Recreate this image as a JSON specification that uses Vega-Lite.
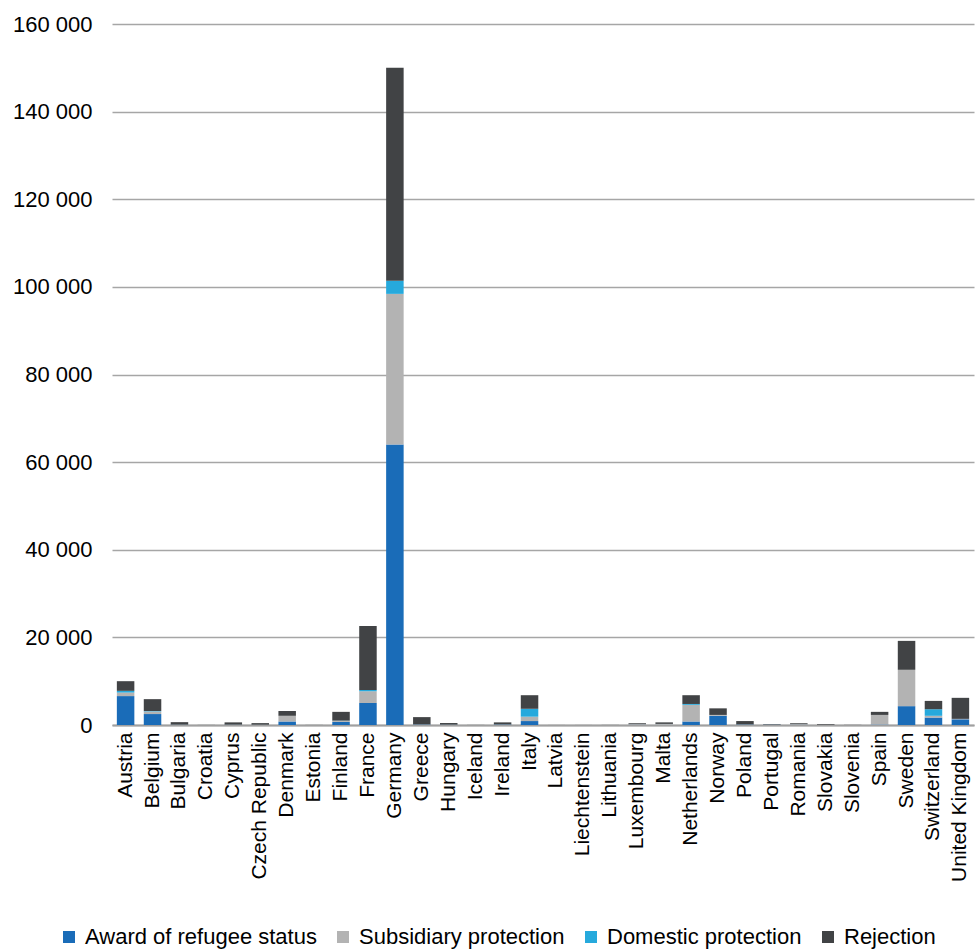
{
  "$schema": "https://vega.github.io/schema/vega-lite/v6.json",
  "width": 862,
  "height": 701,
  "autosize": {"type": "none"},
  "padding": {"left": 112, "top": 24, "right": 1, "bottom": 225},
  "background": "white",
  "config": {
    "font": "Liberation Sans",
    "view": {"stroke": null},
    "locale": {"number": {"decimal": ".", "thousands": " ", "grouping": [3], "currency": ["", ""]}}
  },
  "data": {
    "values": [
      {"country": "Austria", "Award of refugee status": 6600, "Subsidiary protection": 800, "Domestic protection": 400, "Rejection": 2200},
      {"country": "Belgium", "Award of refugee status": 2500, "Subsidiary protection": 600, "Domestic protection": 100, "Rejection": 2700},
      {"country": "Bulgaria", "Award of refugee status": 50, "Subsidiary protection": 50, "Domestic protection": 0, "Rejection": 550},
      {"country": "Croatia", "Award of refugee status": 0, "Subsidiary protection": 0, "Domestic protection": 0, "Rejection": 20},
      {"country": "Cyprus", "Award of refugee status": 50, "Subsidiary protection": 50, "Domestic protection": 0, "Rejection": 500},
      {"country": "Czech Republic", "Award of refugee status": 30, "Subsidiary protection": 50, "Domestic protection": 0, "Rejection": 350},
      {"country": "Denmark", "Award of refugee status": 800, "Subsidiary protection": 1300, "Domestic protection": 0, "Rejection": 1100},
      {"country": "Estonia", "Award of refugee status": 0, "Subsidiary protection": 0, "Domestic protection": 0, "Rejection": 20},
      {"country": "Finland", "Award of refugee status": 700, "Subsidiary protection": 250, "Domestic protection": 50, "Rejection": 2000},
      {"country": "France", "Award of refugee status": 5000, "Subsidiary protection": 2700, "Domestic protection": 300, "Rejection": 14600},
      {"country": "Germany", "Award of refugee status": 64000, "Subsidiary protection": 34400, "Domestic protection": 3000, "Rejection": 48600},
      {"country": "Greece", "Award of refugee status": 100, "Subsidiary protection": 50, "Domestic protection": 0, "Rejection": 1650},
      {"country": "Hungary", "Award of refugee status": 50, "Subsidiary protection": 50, "Domestic protection": 0, "Rejection": 350},
      {"country": "Iceland", "Award of refugee status": 0, "Subsidiary protection": 0, "Domestic protection": 0, "Rejection": 20},
      {"country": "Ireland", "Award of refugee status": 100, "Subsidiary protection": 50, "Domestic protection": 0, "Rejection": 450},
      {"country": "Italy", "Award of refugee status": 900, "Subsidiary protection": 1000, "Domestic protection": 1800, "Rejection": 3100},
      {"country": "Latvia", "Award of refugee status": 0, "Subsidiary protection": 0, "Domestic protection": 0, "Rejection": 10},
      {"country": "Liechtenstein", "Award of refugee status": 0, "Subsidiary protection": 0, "Domestic protection": 0, "Rejection": 10},
      {"country": "Lithuania", "Award of refugee status": 0, "Subsidiary protection": 0, "Domestic protection": 0, "Rejection": 20},
      {"country": "Luxembourg", "Award of refugee status": 50, "Subsidiary protection": 150, "Domestic protection": 0, "Rejection": 200},
      {"country": "Malta", "Award of refugee status": 50, "Subsidiary protection": 200, "Domestic protection": 0, "Rejection": 350},
      {"country": "Netherlands", "Award of refugee status": 800, "Subsidiary protection": 3800, "Domestic protection": 200, "Rejection": 2000},
      {"country": "Norway", "Award of refugee status": 2100, "Subsidiary protection": 200, "Domestic protection": 0, "Rejection": 1500},
      {"country": "Poland", "Award of refugee status": 100, "Subsidiary protection": 50, "Domestic protection": 0, "Rejection": 750},
      {"country": "Portugal", "Award of refugee status": 50, "Subsidiary protection": 50, "Domestic protection": 0, "Rejection": 100},
      {"country": "Romania", "Award of refugee status": 50, "Subsidiary protection": 150, "Domestic protection": 0, "Rejection": 200},
      {"country": "Slovakia", "Award of refugee status": 0, "Subsidiary protection": 50, "Domestic protection": 0, "Rejection": 150},
      {"country": "Slovenia", "Award of refugee status": 0, "Subsidiary protection": 0, "Domestic protection": 0, "Rejection": 30},
      {"country": "Spain", "Award of refugee status": 100, "Subsidiary protection": 2200, "Domestic protection": 0, "Rejection": 700},
      {"country": "Sweden", "Award of refugee status": 4300, "Subsidiary protection": 8300, "Domestic protection": 0, "Rejection": 6600},
      {"country": "Switzerland", "Award of refugee status": 1700, "Subsidiary protection": 400, "Domestic protection": 1500, "Rejection": 1900},
      {"country": "United Kingdom", "Award of refugee status": 1300, "Subsidiary protection": 100, "Domestic protection": 0, "Rejection": 4800}
    ]
  },
  "transform": [
    {"fold": ["Award of refugee status", "Subsidiary protection", "Domestic protection", "Rejection"], "as": ["decision", "count"]},
    {
      "lookup": "decision",
      "from": {
        "data": {
          "values": [
            {"decision": "Award of refugee status", "rank": 1},
            {"decision": "Subsidiary protection", "rank": 2},
            {"decision": "Domestic protection", "rank": 3},
            {"decision": "Rejection", "rank": 4}
          ]
        },
        "key": "decision",
        "fields": ["rank"]
      }
    }
  ],
  "mark": {"type": "bar"},
  "encoding": {
    "x": {
      "field": "country",
      "type": "nominal",
      "sort": null,
      "scale": {"paddingInner": 0.35, "paddingOuter": 0.18},
      "axis": {
        "title": null,
        "labelAngle": -90,
        "labelFontSize": 21,
        "labelColor": "#000000",
        "labelPadding": 7,
        "ticks": false,
        "domainColor": "#a0a0a0",
        "domainWidth": 2,
        "labelOverlap": false
      }
    },
    "y": {
      "field": "count",
      "type": "quantitative",
      "aggregate": "sum",
      "stack": "zero",
      "scale": {"domain": [0, 160000], "nice": false},
      "axis": {
        "title": null,
        "values": [0, 20000, 40000, 60000, 80000, 100000, 120000, 140000, 160000],
        "format": ",d",
        "labelFontSize": 22,
        "labelColor": "#000000",
        "labelPadding": 20,
        "ticks": false,
        "domain": false,
        "gridColor": "#a6a6a6",
        "gridWidth": 1.5
      }
    },
    "color": {
      "field": "decision",
      "type": "nominal",
      "scale": {
        "domain": ["Award of refugee status", "Subsidiary protection", "Domestic protection", "Rejection"],
        "range": ["#1a6cb8", "#b3b3b3", "#26a9dc", "#414345"]
      },
      "legend": {
        "title": null,
        "orient": "none",
        "direction": "horizontal",
        "legendX": -54,
        "legendY": 902,
        "symbolType": "square",
        "symbolSize": 144,
        "symbolStrokeWidth": 0,
        "labelFontSize": 22,
        "labelLimit": 0,
        "labelColor": "#000000",
        "labelOffset": 5,
        "columnPadding": 15
      }
    },
    "order": {"field": "rank", "type": "quantitative", "sort": "ascending"}
  }
}
